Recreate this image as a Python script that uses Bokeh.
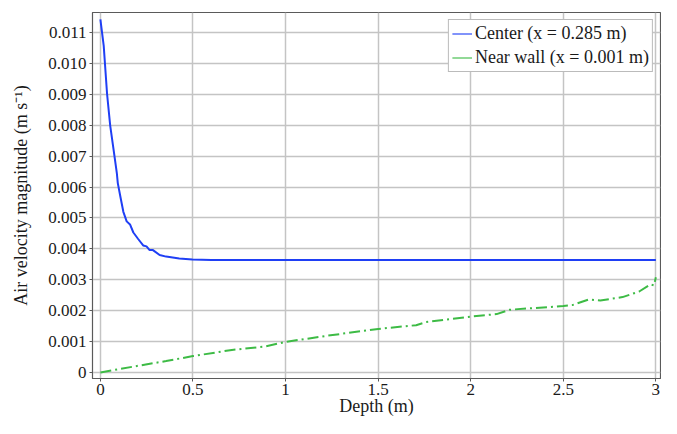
from bokeh.plotting import figure
from bokeh.models import Range1d, FixedTicker, Legend, LegendItem
from bokeh.embed import file_html
from bokeh.resources import INLINE

# ---- data ----
depth_center = [0, 0.018, 0.036, 0.053, 0.071, 0.089, 0.094, 0.107, 0.124, 0.142,
                0.16, 0.178, 0.204, 0.231, 0.249, 0.266, 0.284, 0.32, 0.355, 0.426,
                0.497, 0.6, 0.8, 1.0, 1.5, 2.0, 2.5, 3.0]
vel_center = [0.01143, 0.01057, 0.00902, 0.00799, 0.00722, 0.00644, 0.00613, 0.00572,
              0.00520, 0.00489, 0.00479, 0.00453, 0.00432, 0.00411, 0.00408, 0.00396,
              0.00396, 0.00380, 0.00375, 0.00369, 0.00366, 0.00364, 0.00364, 0.00364,
              0.00364, 0.00364, 0.00364, 0.00364]

depth_wall = [0, 0.178, 0.355, 0.5, 0.71, 0.888, 1.0, 1.227, 1.5, 1.705, 1.758, 2.0,
              2.14, 2.21, 2.5, 2.548, 2.637, 2.70, 2.82, 2.91, 2.97, 2.99, 3.0]
vel_wall = [0.0, 0.00019, 0.00037, 0.00053, 0.00073, 0.00084, 0.00099, 0.00119,
            0.00141, 0.00153, 0.00163, 0.00181, 0.00189, 0.00203, 0.00215, 0.00218,
            0.00236, 0.00233, 0.00244, 0.00262, 0.00285, 0.00282, 0.00308]

x_ticks = [0, 0.5, 1, 1.5, 2, 2.5, 3]
x_tick_labels = ["0", "0.5", "1", "1.5", "2", "2.5", "3"]
y_ticks = [0, 0.001, 0.002, 0.003, 0.004, 0.005, 0.006, 0.007, 0.008, 0.009, 0.010, 0.011]
y_tick_labels = ["0", "0.001", "0.002", "0.003", "0.004", "0.005", "0.006", "0.007",
                 "0.008", "0.009", "0.010", "0.011"]

series_labels = ["Center (x = 0.285 m)", "Near wall (x = 0.001 m)"]
x_label = "Depth (m)"
y_label = "Air velocity magnitude (m s\u207b\u00b9)"

FONT = "Liberation Serif"
BLUE = "#1f3ff5"
GREEN = "#3dbb45"
NAN = float("nan")

p = figure(width=661, height=418, output_backend="svg", toolbar_location=None,
           x_range=Range1d(-0.0426, 3.025), y_range=Range1d(-0.000195, 0.01165),
           min_border_left=92, min_border_top=12, min_border_right=1, min_border_bottom=0)

p.background_fill_color = "white"
p.outline_line_color = "#5a5a5a"
p.outline_line_width = 1.2

for ax in (p.xaxis, p.yaxis):
    ax.axis_line_color = "#5a5a5a"
    ax.major_tick_line_color = "#5a5a5a"
    ax.major_tick_in = 0
    ax.major_tick_out = 3
    ax.minor_tick_line_color = None
    ax.major_label_text_font = FONT
    ax.major_label_text_font_size = "17px"
    ax.major_label_text_color = "#1a1a1a"
    ax.axis_label_text_font = FONT
    ax.axis_label_text_font_size = "18px"
    ax.axis_label_text_font_style = "normal"
    ax.axis_label_text_color = "#1a1a1a"

p.xaxis.ticker = FixedTicker(ticks=x_ticks)
p.yaxis.ticker = FixedTicker(ticks=y_ticks)
p.xaxis.major_label_overrides = {t: l for t, l in zip(x_ticks, x_tick_labels)}
p.yaxis.major_label_overrides = {t: l for t, l in zip(y_ticks, y_tick_labels)}
p.xaxis.axis_label = x_label
p.yaxis.axis_label = y_label
p.xaxis.major_label_standoff = 2
p.xaxis.axis_label_standoff = -2
p.yaxis.major_label_standoff = 3
p.yaxis.axis_label_standoff = 14

p.grid.grid_line_color = "#c4c4c4"
p.grid.grid_line_width = 1.5

p.line(depth_center, vel_center, line_color=BLUE, line_width=2)
p.line(depth_wall, vel_wall, line_color=GREEN, line_width=2, line_dash="11 4 2 4")

# legend proxies (solid lines, as in the reference legend)
lc = p.line([NAN, NAN], [NAN, NAN], line_color=BLUE, line_width=1.5, line_alpha=0.75)
lw = p.line([NAN, NAN], [NAN, NAN], line_color=GREEN, line_width=1.5, line_alpha=0.75)
legend = Legend(items=[LegendItem(label=series_labels[0], renderers=[lc]),
                       LegendItem(label=series_labels[1], renderers=[lw])],
                location="top_right")
legend.label_text_font = FONT
legend.label_text_font_size = "18px"
legend.label_text_color = "#1a1a1a"
legend.glyph_width = 20
legend.label_standoff = 3
legend.padding = 3
legend.spacing = 3
legend.margin = 7
legend.label_height = 21
legend.glyph_height = 21
legend.border_line_color = "#777777"
legend.border_line_width = 1.2
legend.background_fill_alpha = 1.0
p.add_layout(legend)

open("out.html", "w").write(file_html(p, INLINE))
